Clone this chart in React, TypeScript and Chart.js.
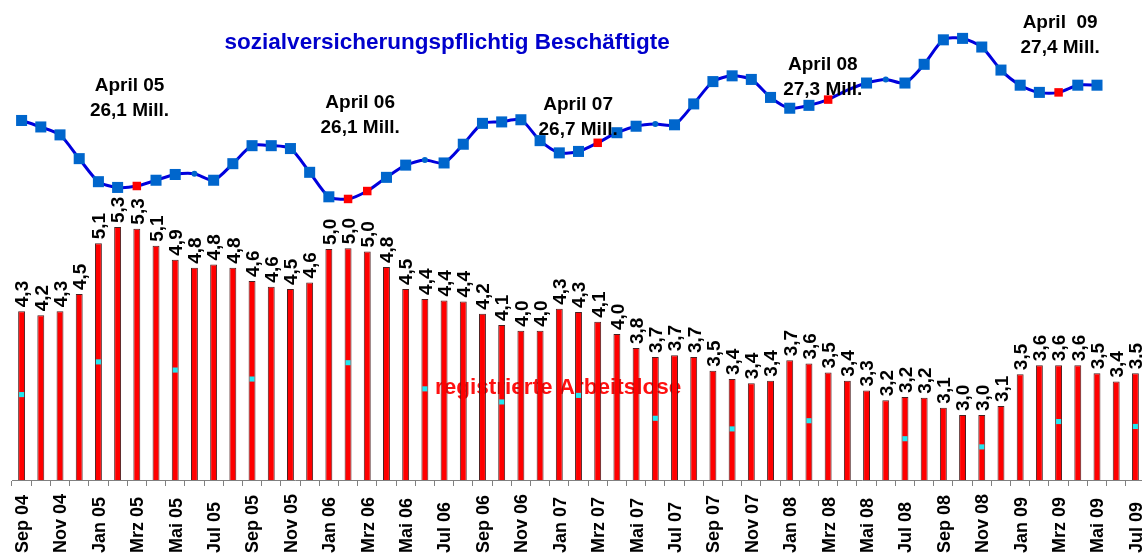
import React, { useEffect, useRef } from 'react';
import { Chart, registerables } from 'chart.js';

Chart.register(...registerables);

const FONT = "'Liberation Sans', Arial, Helvetica, sans-serif";

const MONTHS: string[] = [
  'Sep 04', 'Okt 04', 'Nov 04', 'Dez 04',
  'Jan 05', 'Feb 05', 'Mrz 05', 'Apr 05', 'Mai 05', 'Jun 05', 'Jul 05', 'Aug 05', 'Sep 05', 'Okt 05', 'Nov 05', 'Dez 05',
  'Jan 06', 'Feb 06', 'Mrz 06', 'Apr 06', 'Mai 06', 'Jun 06', 'Jul 06', 'Aug 06', 'Sep 06', 'Okt 06', 'Nov 06', 'Dez 06',
  'Jan 07', 'Feb 07', 'Mrz 07', 'Apr 07', 'Mai 07', 'Jun 07', 'Jul 07', 'Aug 07', 'Sep 07', 'Okt 07', 'Nov 07', 'Dez 07',
  'Jan 08', 'Feb 08', 'Mrz 08', 'Apr 08', 'Mai 08', 'Jun 08', 'Jul 08', 'Aug 08', 'Sep 08', 'Okt 08', 'Nov 08', 'Dez 08',
  'Jan 09', 'Feb 09', 'Mrz 09', 'Apr 09', 'Mai 09', 'Jun 09', 'Jul 09',
];

// registrierte Arbeitslose (Mio.)
const ARBEITSLOSE: number[] = [
  4.27, 4.22, 4.27, 4.48,
  5.10, 5.30, 5.28, 5.07, 4.90, 4.80, 4.84, 4.80, 4.64, 4.57, 4.54, 4.62,
  5.03, 5.04, 5.00, 4.81, 4.54, 4.42, 4.40, 4.39, 4.24, 4.10, 4.03, 4.03,
  4.30, 4.26, 4.14, 3.99, 3.82, 3.71, 3.73, 3.71, 3.54, 3.44, 3.39, 3.42,
  3.67, 3.63, 3.52, 3.42, 3.30, 3.18, 3.22, 3.21, 3.09, 3.00, 3.00, 3.11,
  3.50, 3.61, 3.61, 3.61, 3.51, 3.41, 3.51,
];

// sozialversicherungspflichtig Beschäftigte (Mio.)
const BESCHAEFTIGTE: (number | null)[] = [
  27.01, 26.92, 26.81, 26.48,
  26.16, 26.08, 26.10, 26.18, 26.26, 26.27, 26.18, 26.41, 26.66, 26.66, 26.62, 26.29,
  25.95, 25.92, 26.03, 26.22, 26.39, 26.46, 26.42, 26.68, 26.97, 26.99, 27.02, 26.73,
  26.56, 26.58, 26.70, 26.84, 26.93, 26.96, 26.95, 27.24, 27.55, 27.63, 27.58, 27.33,
  27.18, 27.22, 27.30, 27.43, 27.53, 27.58, 27.53, 27.79, 28.13, 28.15, 28.03, 27.71,
  27.50, 27.40, 27.40, 27.50, 27.50, null, null,
];

// small cyan markers
const CYAN_MARKS: (number | null)[] = [
  3.25, null, null, null, 3.65, null, null, null, 3.55, null,
  null, null, 3.44, null, null, null, null, 3.64, null, null,
  null, 3.32, null, null, null, 3.16, null, null, null, 3.24,
  null, null, null, 2.96, null, null, null, 2.83, null, null,
  null, 2.93, null, null, null, null, 2.71, null, null, null,
  2.61, null, null, null, 2.92, null, null, null, 2.86,
];

const RED_POINTS: number[] = [6, 17, 18, 30, 42, 54];
const SMALL_POINTS: number[] = [9, 21, 33, 45];
const HIDDEN_POINTS: number[] = [43];

const ANNOT_MONTH: string[] = ['April 05', 'April 06', 'April 07', 'April 08', 'April  09'];
const ANNOT_VALUE: string[] = ['26,1 Mill.', '26,1 Mill.', '26,7 Mill.', '27,3 Mill.', '27,4 Mill.'];
// anchor (category index, line-axis value) of the first text line
const ANNOT_POS: [number, number][] = [
  [5.62, 27.489], [17.63, 27.249], [28.98, 27.225], [41.72, 27.78], [54.08, 28.368],
];

const TITLE_LINE = 'sozialversicherungspflichtig Beschäftigte';
const TITLE_BARS = 'registrierte Arbeitslose';

const overlayPlugin = {
  id: 'overlay',
  beforeDatasetsDraw(chart: any) {
    const ctx = chart.ctx;
    const x = chart.scales.x.getPixelForValue(27.94);
    const y = chart.scales.y.getPixelForValue(3.327);
    ctx.save();
    ctx.font = `bold 22.5px ${FONT}`;
    ctx.fillStyle = '#ff1010';
    ctx.textAlign = 'center';
    ctx.textBaseline = 'middle';
    ctx.fillText(TITLE_BARS, x, y);
    ctx.restore();
  },
  afterDatasetDraw(chart: any, args: any) {
    if (args.index !== 2) return;
    const ctx = chart.ctx;
    const meta = chart.getDatasetMeta(2);
    ctx.save();
    ctx.font = `bold 19px ${FONT}`;
    ctx.fillStyle = '#000';
    ctx.textAlign = 'left';
    ctx.textBaseline = 'alphabetic';
    meta.data.forEach((bar: any, i: number) => {
      const label = ARBEITSLOSE[i].toFixed(1).replace('.', ',');
      ctx.save();
      ctx.translate(bar.x + 6.8, bar.y - 4);
      ctx.rotate(-Math.PI / 2);
      ctx.fillText(label, 0, 0);
      ctx.restore();
    });
    ctx.restore();
  },
  afterDraw(chart: any) {
    const ctx = chart.ctx;
    const xs = chart.scales.x;
    const ys = chart.scales.y2;
    ctx.save();
    // month labels (every second month), rotated, aligned at their start
    ctx.font = `bold 18px ${FONT}`;
    ctx.fillStyle = '#000';
    ctx.textAlign = 'left';
    ctx.textBaseline = 'alphabetic';
    MONTHS.forEach((m, i) => {
      if (i % 2 !== 0) return;
      ctx.save();
      ctx.translate(xs.getPixelForValue(i) + 6.4, xs.bottom - 6);
      ctx.rotate(-Math.PI / 2);
      ctx.fillText(m, 0, 0);
      ctx.restore();
    });
    ctx.textAlign = 'center';
    ctx.textBaseline = 'middle';
    ctx.font = `bold 22.5px ${FONT}`;
    ctx.fillStyle = '#0000cc';
    ctx.fillText(TITLE_LINE, xs.getPixelForValue(22.16), ys.getPixelForValue(28.082));
    ctx.font = `bold 19px ${FONT}`;
    ctx.fillStyle = '#000';
    ANNOT_POS.forEach(([idx, v], k) => {
      const x = xs.getPixelForValue(idx);
      const y = ys.getPixelForValue(v);
      ctx.fillText(ANNOT_MONTH[k], x, y);
      ctx.fillText(ANNOT_VALUE[k], x, y + 24.7);
    });
    ctx.restore();
  },
};

export default function App() {
  const canvasRef = useRef<HTMLCanvasElement | null>(null);

  useEffect(() => {
    document.documentElement.style.overflow = 'hidden';
    document.body.style.overflow = 'hidden';
    const canvas = canvasRef.current;
    if (!canvas) return;

    const pointStyle = MONTHS.map((_, i) =>
      SMALL_POINTS.includes(i) ? 'circle' : 'rect'
    );
    const pointRadius = MONTHS.map((_, i) =>
      HIDDEN_POINTS.includes(i) ? 0 : SMALL_POINTS.includes(i) ? 3 : RED_POINTS.includes(i) ? 6 : 7.8
    );
    const pointColor = MONTHS.map((_, i) => (RED_POINTS.includes(i) ? '#ff0000' : '#0066cc'));

    const chart = new Chart(canvas, {
      type: 'bar',
      data: {
        labels: MONTHS,
        datasets: [
          {
            type: 'line',
            label: TITLE_LINE,
            data: BESCHAEFTIGTE,
            yAxisID: 'y2',
            borderColor: '#0000dd',
            borderWidth: 3,
            tension: 0.25,
            pointStyle: pointStyle as any,
            pointRadius: pointRadius,
            pointHoverRadius: pointRadius,
            pointBackgroundColor: pointColor,
            pointBorderColor: pointColor,
            pointBorderWidth: 0,
            order: 0,
          } as any,
          {
            type: 'line',
            label: 'marks',
            data: CYAN_MARKS,
            yAxisID: 'y',
            showLine: false,
            pointStyle: 'rect',
            pointRadius: 3.6,
            pointBackgroundColor: '#22e8f0',
            pointBorderWidth: 0,
            order: 1,
          } as any,
          {
            type: 'bar',
            label: TITLE_BARS,
            data: ARBEITSLOSE,
            yAxisID: 'y',
            backgroundColor: '#ff0000',
            borderColor: '#4a2020',
            borderWidth: 1,
            categoryPercentage: 1,
            barPercentage: 0.36,
            order: 2,
          } as any,
        ],
      },
      options: {
        responsive: false,
        animation: false,
        devicePixelRatio: 1,
        layout: { autoPadding: false, padding: { left: 4, right: 3, top: 0, bottom: 0 } },
        plugins: {
          legend: { display: false },
          tooltip: { enabled: false },
        },
        scales: {
          x: {
            type: 'category',
            offset: true,
            grid: {
              display: true,
              offset: true,
              drawOnChartArea: false,
              drawTicks: true,
              tickLength: 6,
              color: '#808080',
            },
            border: { display: true, color: '#808080', width: 1 },
            ticks: {
              display: false,
              autoSkip: false,
            },
            afterFit: (s: any) => {
              s.height = 79;
              s.paddingLeft = 0;
              s.paddingRight = 0;
            },
          } as any,
          y: { display: false, min: 2.205, max: 7.979 },
          y2: { display: false, min: 22.017, max: 28.572, position: 'right' },
        },
      },
      plugins: [overlayPlugin as any],
    });

    return () => chart.destroy();
  }, []);

  return (
    <div style={{ position: 'fixed', left: 0, top: 0, width: 1142, height: 559, overflow: 'hidden', background: '#fff' }}>
      <canvas
        ref={canvasRef}
        width={1140}
        height={551}
        style={{ position: 'absolute', left: 8, top: 8, display: 'block', width: 1140, height: 551 }}
      />
    </div>
  );
}
